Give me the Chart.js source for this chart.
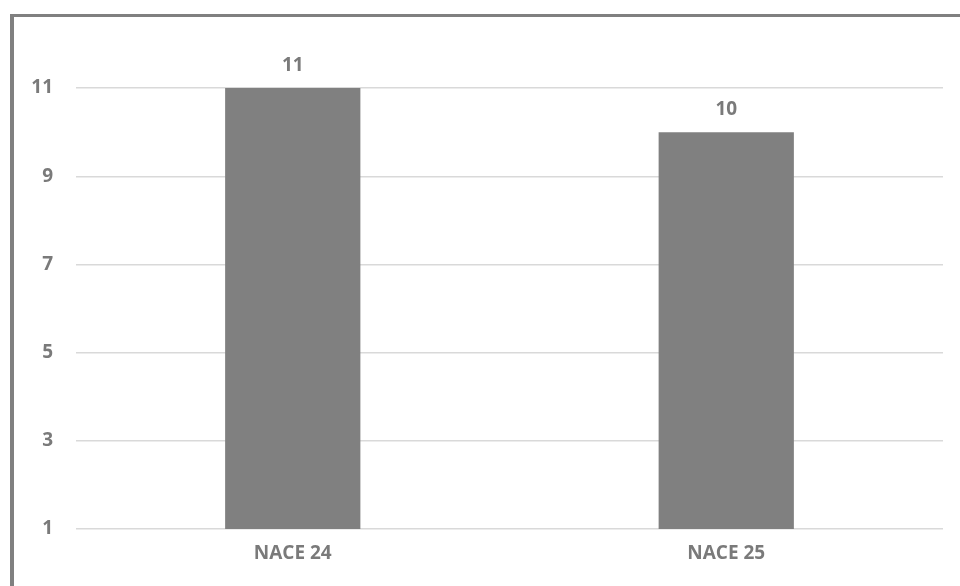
<!DOCTYPE html>
<html>
<head>
<meta charset="utf-8">
<script src="https://cdn.jsdelivr.net/npm/chart.js@4/dist/chart.umd.min.js"></script>
<style>
  html, body { margin: 0; padding: 0; background: #ffffff; }
  #wrap { position: relative; width: 960px; height: 586px; overflow: hidden; }
  #frame {
    position: absolute; left: 10px; top: 14px; width: 1000px; height: 640px;
    border-left: 4px solid #808080; border-top: 3px solid #808080;
    pointer-events: none;
  }
  canvas { position: absolute; left: 0; top: 0; }
</style>
</head>
<body>
<div id="wrap">
  <canvas id="chart" width="960" height="586"></canvas>
  <div id="frame"></div>
</div>
<script>
// Categories and values
const categories = ["NACE 24", "NACE 25"];
const values = [11, 10];
// Y-axis tick labels
const yTicks = [1, 3, 5, 7, 9, 11];

const textGray = "#7a7a7a";
const fontFamily = "'Open Sans', Lato, 'Liberation Sans', sans-serif";
const fontSize = 19;

// Writes each bar's value above its top edge
const valueLabels = {
  id: "valueLabels",
  afterDatasetsDraw(chart) {
    const ctx = chart.ctx;
    const meta = chart.getDatasetMeta(0);
    ctx.save();
    ctx.font = "bold " + fontSize + "px " + fontFamily;
    ctx.fillStyle = textGray;
    ctx.textAlign = "center";
    ctx.textBaseline = "alphabetic";
    meta.data.forEach((bar, i) => {
      const v = chart.data.datasets[0].data[i];
      ctx.fillText(String(v), bar.x, bar.y - 17);
    });
    ctx.restore();
  }
};

new Chart(document.getElementById("chart"), {
  type: "bar",
  data: {
    labels: categories,
    datasets: [{
      data: values,
      backgroundColor: "#808080",
      borderWidth: 0,
      barPercentage: 1,
      categoryPercentage: 0.312
    }]
  },
  options: {
    responsive: false,
    animation: false,
    events: [],
    layout: { padding: { top: 44, right: 17, bottom: 0, left: 0 } },
    plugins: { legend: { display: false }, tooltip: { enabled: false } },
    scales: {
      x: {
        grid: { display: false, drawTicks: false },
        border: { display: false },
        ticks: {
          color: textGray,
          font: { family: fontFamily, size: fontSize, weight: "bold" },
          padding: 13
        },
        afterFit(scale) { scale.height = 57; }
      },
      y: {
        min: 1,
        max: 12,
        afterBuildTicks(scale) {
          scale.ticks = yTicks.map(v => ({ value: v }));
        },
        grid: { color: "#d9d9d9", lineWidth: 1.5, drawTicks: false },
        border: { display: false },
        ticks: {
          color: textGray,
          font: { family: fontFamily, size: fontSize, weight: "bold" },
          padding: 23
        },
        afterFit(scale) { scale.width = 76; }
      }
    }
  },
  plugins: [valueLabels]
});
</script>
</body>
</html>
